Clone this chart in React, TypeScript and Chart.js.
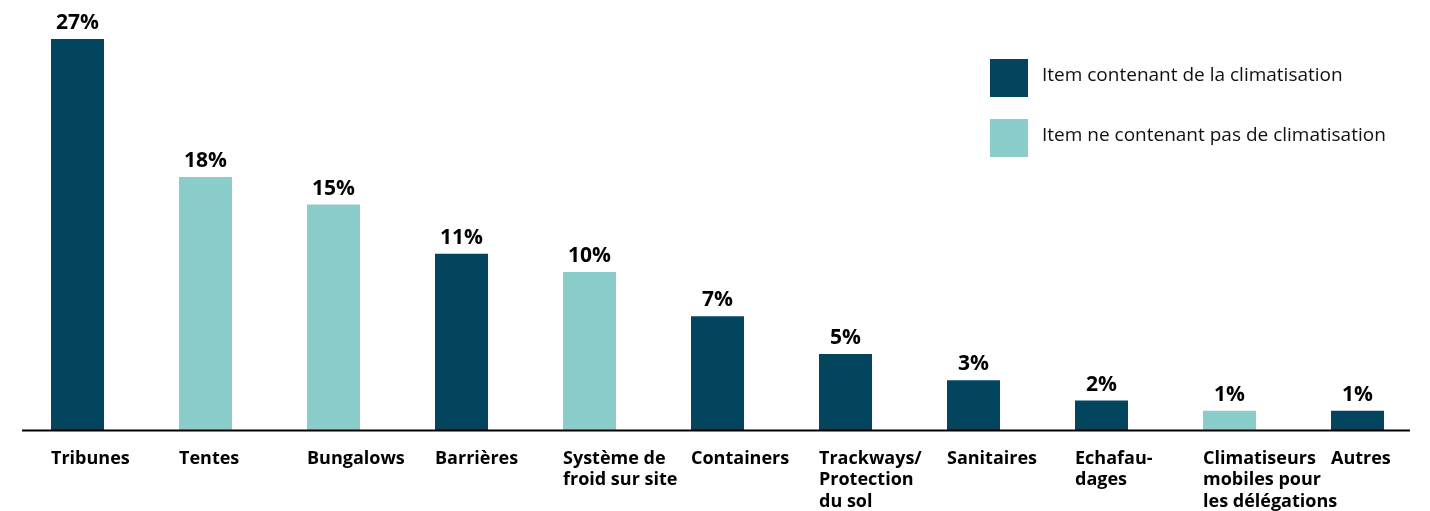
import React, { useEffect, useRef } from "react";
import { Chart, registerables } from "chart.js";

Chart.register(...registerables);

const categories: (string | string[])[] = [
  "Tribunes",
  "Tentes",
  "Bungalows",
  "Barrières",
  ["Système de", "froid sur site"],
  "Containers",
  ["Trackways/", "Protection", "du sol"],
  "Sanitaires",
  ["Echafau-", "dages"],
  ["Climatiseurs", "mobiles pour", "les délégations"],
  "Autres",
];
const values = [27, 17.5, 15.6, 12.2, 10.95, 7.9, 5.3, 3.5, 2.1, 1.4, 1.4];
const valueLabels = ["27%", "18%", "15%", "11%", "10%", "7%", "5%", "3%", "2%", "1%", "1%"];
const hasAirCon = [true, false, false, true, false, true, true, true, true, false, true];
const legendLabels = [
  "Item contenant de la climatisation",
  "Item ne contenant pas de climatisation",
];

const DARK = "#03445E";
const LIGHT = "#8BCDCA";
const FONT = "'Open Sans', Lato, sans-serif";

const overlayPlugin = {
  id: "overlay",
  afterDatasetsDraw(chart: any) {
    const ctx = chart.ctx;
    const meta = chart.getDatasetMeta(0);
    const yScale = chart.scales.y;
    const base = yScale.getPixelForValue(0);
    ctx.save();
    // axis line
    ctx.strokeStyle = "#000000";
    ctx.lineWidth = 2;
    ctx.beginPath();
    ctx.moveTo(22, base - 0.5);
    ctx.lineTo(1410, base - 0.5);
    ctx.stroke();
    // value labels
    ctx.fillStyle = "#000000";
    ctx.font = `700 21px ${FONT}`;
    ctx.textAlign = "center";
    ctx.textBaseline = "alphabetic";
    meta.data.forEach((bar: any, i: number) => {
      ctx.fillText(valueLabels[i], bar.x, bar.y - 10);
    });
    // legend
    const items = [
      { color: DARK, text: legendLabels[0], y: 59 },
      { color: LIGHT, text: legendLabels[1], y: 119 },
    ];
    ctx.textAlign = "left";
    ctx.textBaseline = "middle";
    ctx.font = `400 19px ${FONT}`;
    items.forEach((it) => {
      ctx.fillStyle = it.color;
      ctx.fillRect(990, it.y, 38, 38);
      ctx.fillStyle = "#111111";
      ctx.fillText(it.text, 1042, it.y + 17);
    });
    ctx.restore();
  },
};

export default function App() {
  const canvasRef = useRef<HTMLCanvasElement | null>(null);

  useEffect(() => {
    document.body.style.margin = "0";
    const canvas = canvasRef.current;
    if (!canvas) return;
    const chart = new Chart(canvas, {
      type: "bar",
      data: {
        labels: categories,
        datasets: [
          {
            data: values,
            backgroundColor: hasAirCon.map((h) => (h ? DARK : LIGHT)),
            borderWidth: 0,
            barPercentage: 53 / 128,
            categoryPercentage: 1,
          },
        ],
      },
      options: {
        responsive: false,
        animation: false,
        devicePixelRatio: 1,
        layout: { padding: { left: 13.5, right: 8.5, top: 39, bottom: 0 } },
        plugins: {
          legend: { display: false },
          tooltip: { enabled: false },
        },
        scales: {
          x: {
            grid: { display: false, drawTicks: false },
            border: { display: false },
            afterFit: (scale: any) => {
              scale.height = 80;
              scale.paddingLeft = 0;
              scale.paddingRight = 0;
            },
            ticks: {
              align: "start",
              labelOffset: -26.5,
              padding: 17,
              color: "#000000",
              autoSkip: false,
              maxRotation: 0,
              font: { family: FONT, size: 18, weight: "700", lineHeight: 1.19 },
            },
          },
          y: {
            display: false,
            min: 0,
            max: 27,
          },
        },
      },
      plugins: [overlayPlugin],
    });
    return () => chart.destroy();
  }, []);

  return (
    <div style={{ width: 1430, height: 511 }}>
      <canvas ref={canvasRef} width={1430} height={511} style={{ display: "block" }} />
    </div>
  );
}
